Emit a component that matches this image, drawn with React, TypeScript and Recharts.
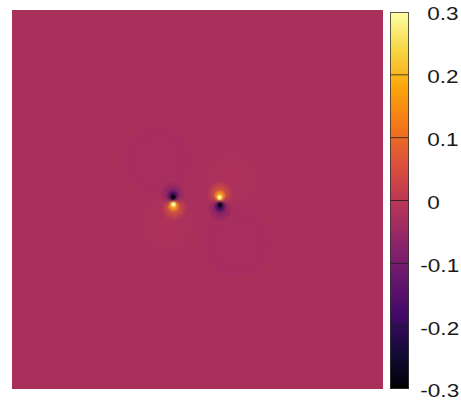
import React from "react";
import {
  ScatterChart,
  Scatter,
  XAxis,
  YAxis,
  CartesianGrid,
  BarChart,
  Bar,
  ReferenceLine,
  ReferenceArea,
} from "recharts";

// ---- data ----
const fieldBackgroundValue = -0.026;
const blobX = [-2.18, 2.13, -1.75, 1.86, -1.27, 1.21, -1.32, 1.21, -1.3, 1.2, -1.32, 1.21, -1.3, 1.19, -1.32, 1.21];
const blobY = [2.08, -2.3, -1.35, 1.13, -0.45, 0.3, 0.28, -0.5, -0.33, 0.18, 0.2, -0.37, -0.26, 0.11, 0.13, -0.29];
const blobValue = [-0.031, -0.031, -0.017, -0.017, 0.1, 0.1, -0.12, -0.12, 0.2, 0.2, -0.2, -0.2, 0.3, 0.3, -0.3, -0.3];
const blobKind = [
  "lobe", "lobe", "glow", "glow",
  "halo", "halo", "halo", "halo",
  "mid", "mid", "mid", "mid",
  "core", "core", "core", "core",
];
const colorbarTicks = [-0.3, -0.2, -0.1, 0, 0.1, 0.2, 0.3];
const colorbarRange = [{ name: "scale", range: [-0.3, 0.3] }];

// ---- styles ----
const INFERNO = [
  "#000004", "#160b39", "#420a68", "#6a176e", "#932667", "#bc3754",
  "#dd513a", "#f37819", "#fca50a", "#f6d746", "#fcffa4",
];
const VMIN = -0.3;
const VMAX = 0.3;
const KIND_RADIUS: Record<string, number> = { lobe: 37, glow: 30, halo: 13, mid: 6.5, core: 3.2 };
const KIND_STOPS: Record<string, [number, number][]> = {
  lobe: [[0, 0.7], [0.88, 1], [1, 0]],
  glow: [[0, 0.7], [1, 0]],
  halo: [[0, 0.8], [0.4, 0.5], [1, 0]],
  mid: [[0, 0.9], [0.5, 0.6], [1, 0]],
  core: [[0, 1], [0.5, 0.8], [1, 0]],
};

function hex(c: string) {
  return [1, 3, 5].map((i) => parseInt(c.slice(i, i + 2), 16));
}
function colorAt(v: number) {
  let t = (v - VMIN) / (VMAX - VMIN);
  t = Math.max(0, Math.min(1, t));
  const p = t * (INFERNO.length - 1);
  const i = Math.min(INFERNO.length - 2, Math.floor(p));
  const f = p - i;
  const a = hex(INFERNO[i]);
  const b = hex(INFERNO[i + 1]);
  const c = a.map((x, k) => Math.round(x + (b[k] - x) * f));
  return `rgb(${c[0]},${c[1]},${c[2]})`;
}

const blobs = blobX.map((x, i) => ({
  x,
  y: blobY[i],
  value: blobValue[i],
  kind: blobKind[i],
}));

function BlobShape(props: any) {
  const { cx, cy, payload, index } = props;
  const r = KIND_RADIUS[payload.kind];
  const col = colorAt(payload.value);
  const id = `blob-grad-${index}`;
  return (
    <g>
      <defs>
        <radialGradient id={id}>
          {KIND_STOPS[payload.kind].map(([o, op], k) => (
            <stop key={k} offset={o} stopColor={col} stopOpacity={op} />
          ))}
        </radialGradient>
      </defs>
      <ellipse cx={cx} cy={cy} rx={r} ry={r} fill={`url(#${id})`} />
    </g>
  );
}

function ColorbarShape(props: any) {
  const { x, y, width, height } = props;
  const n = INFERNO.length - 1;
  return (
    <g>
      <defs>
        <linearGradient id="cbGrad" x1="0" y1="0" x2="0" y2="1">
          {INFERNO.map((c, i) => (
            <stop key={i} offset={i / n} stopColor={INFERNO[n - i]} />
          ))}
        </linearGradient>
      </defs>
      <rect x={x} y={y} width={width} height={height} fill="url(#cbGrad)" />
    </g>
  );
}

function ColorbarTick(props: any) {
  const { y, payload } = props;
  const v = payload.value as number;
  const label = v === 0 ? "0" : v.toFixed(1);
  const tx = v < 0 ? 420.3 : 427.3;
  return (
    <g transform={`translate(${tx},${y + 8.4}) scale(1.22,1)`}>
      <text
        x={0}
        y={0}
        textAnchor="start"
        fontFamily="'Liberation Sans', Arial, sans-serif"
        fontSize={18.5}
        fill="#1a1a1a"
      >
        {label}
      </text>
    </g>
  );
}

export default function App() {
  return (
    <div style={{ position: "absolute", left: 0, top: 0, width: 461, height: 401, background: "#fff" }}>
      <div style={{ position: "absolute", left: 0, top: 0 }}>
        <ScatterChart width={461} height={401} margin={{ top: 10, left: 12, right: 78, bottom: 12 }}>
          <CartesianGrid
            horizontal={false}
            vertical={false}
            fill={colorAt(fieldBackgroundValue)}
            fillOpacity={1}
            stroke="none"
          />
          <XAxis type="number" dataKey="x" domain={[-10, 10]} hide />
          <YAxis type="number" dataKey="y" domain={[-10, 10]} hide />
          <Scatter data={blobs} shape={BlobShape} isAnimationActive={false} />
        </ScatterChart>
      </div>
      <div style={{ position: "absolute", left: 0, top: 0 }}>
        <BarChart
          width={461}
          height={401}
          data={colorbarRange}
          margin={{ top: 12, left: 390, right: 0, bottom: 12 }}
          barCategoryGap={0}
        >
          <XAxis dataKey="name" hide />
          <YAxis
            orientation="right"
            type="number"
            domain={[VMIN, VMAX]}
            ticks={colorbarTicks}
            axisLine={false}
            tickLine={false}
            tick={ColorbarTick}
            width={52}
            interval={0}
          />
          <Bar dataKey="range" fill="none" isAnimationActive={false} />
          <ReferenceArea y1={VMIN} y2={VMAX} shape={ColorbarShape} />
          {colorbarTicks.slice(1, -1).map((t) => (
            <ReferenceLine key={t} y={t} stroke="#1a1a1a" strokeOpacity={0.75} strokeWidth={1} />
          ))}
        </BarChart>
      </div>
      <svg width={461} height={401} style={{ position: "absolute", left: 0, top: 0, pointerEvents: "none" }}>
        <rect x={390.5} y={12.5} width={18} height={376} fill="none" stroke="#333" strokeOpacity={0.8} />
      </svg>
    </div>
  );
}
